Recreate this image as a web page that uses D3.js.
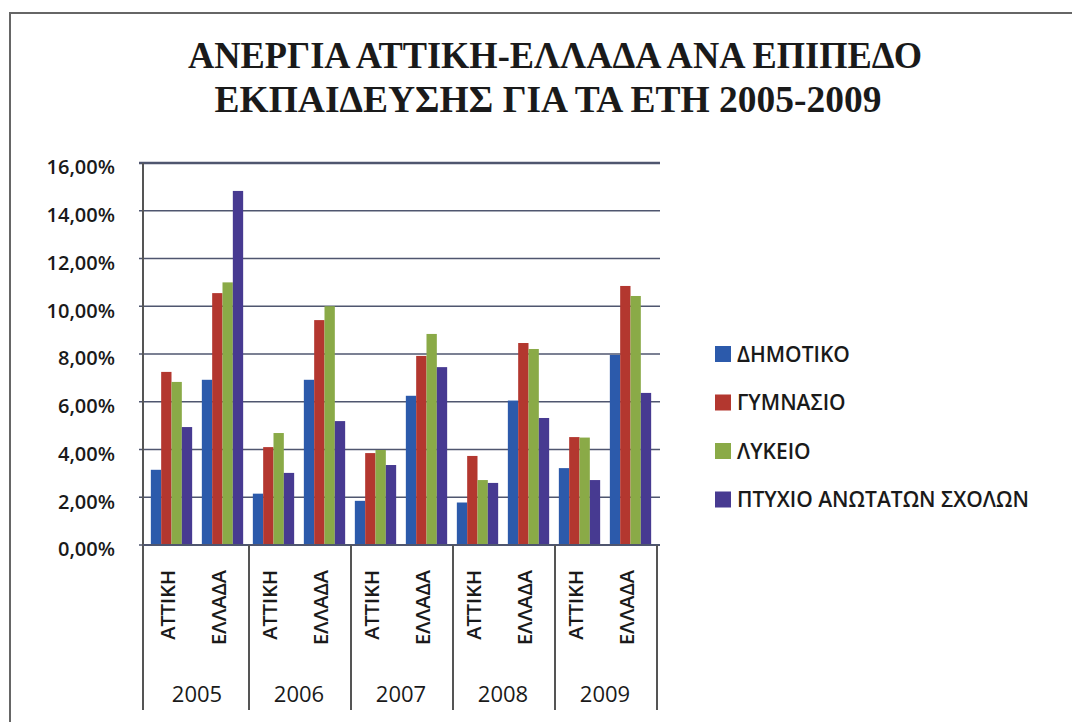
<!DOCTYPE html>
<html>
<head>
<meta charset="utf-8">
<script src="https://cdn.jsdelivr.net/npm/d3@7"></script>
<style>
  body { margin: 0; background: #fff; }
  svg text { font-family: "Open Sans", sans-serif; fill: #1a1a1a; }
</style>
</head>
<body>
<svg width="1072" height="722"></svg>
<script>
const years = ["2005", "2006", "2007", "2008", "2009"]
const regions = ["ΑΤΤΙΚΗ", "ΕΛΛΑΔΑ"]
const seriesNames = ["ΔΗΜΟΤΙΚΟ", "ΓΥΜΝΑΣΙΟ", "ΛΥΚΕΙΟ", "ΠΤΥΧΙΟ ΑΝΩΤΑΤΩΝ ΣΧΟΛΩΝ"]
const colors = ["#2c5aab", "#b3372f", "#8aaa47", "#473a91"]

// one value per (year, region), in order 2005 ΑΤΤΙΚΗ, 2005 ΕΛΛΑΔΑ, 2006 ΑΤΤΙΚΗ ...
const dimotiko  = [3.15, 6.92, 2.15, 6.92, 1.85, 6.25, 1.78, 6.05, 3.22, 7.96]
const gymnasio  = [7.25, 10.55, 4.10, 9.42, 3.85, 7.92, 3.73, 8.46, 4.52, 10.85]
const lykeio    = [6.83, 11.00, 4.69, 10.00, 3.98, 8.84, 2.72, 8.21, 4.50, 10.43]
const ptyxio    = [4.94, 14.83, 3.02, 5.19, 3.35, 7.45, 2.60, 5.32, 2.72, 6.37]
const seriesValues = [dimotiko, gymnasio, lykeio, ptyxio]

const yTicks = [0, 2, 4, 6, 8, 10, 12, 14, 16]

const svg = d3.select("svg")

// chart frame
svg.append("path")
    .attr("d", "M10,730 L10,13 L1072,13")
    .attr("fill", "none")
    .attr("stroke", "#666")
    .attr("stroke-width", 2)

// title
const title = svg.append("g")
    .style("font-family", "'Liberation Serif', 'Times New Roman', serif")
    .style("font-weight", "bold")
title.append("text")
    .attr("x", 555).attr("y", 68)
    .attr("text-anchor", "middle")
    .attr("font-size", 38)
    .attr("textLength", 734)
    .attr("lengthAdjust", "spacingAndGlyphs")
    .style("font-family", "inherit")
    .text("ΑΝΕΡΓΙΑ ΑΤΤΙΚΗ-ΕΛΛΑΔΑ ΑΝΑ ΕΠΙΠΕΔΟ")
title.append("text")
    .attr("x", 548).attr("y", 112)
    .attr("text-anchor", "middle")
    .attr("font-size", 38)
    .attr("textLength", 667)
    .attr("lengthAdjust", "spacingAndGlyphs")
    .style("font-family", "inherit")
    .text("ΕΚΠΑΙΔΕΥΣΗΣ ΓΙΑ ΤΑ ΕΤΗ 2005-2009")

const cats = []
years.forEach(yr => regions.forEach(r => cats.push(yr + "|" + r)))

const x0 = d3.scaleBand()
    .domain(cats)
    .range([146, 656])
    .paddingInner(0.19)
    .paddingOuter(0.095)

const x1 = d3.scaleBand()
    .domain(d3.range(seriesNames.length))
    .range([0, x0.bandwidth()])

const y = d3.scaleLinear()
    .domain([0, 16])
    .range([545, 163])

// gridlines
svg.append("g")
    .selectAll("line")
    .data(yTicks)
    .join("line")
    .attr("x1", 139).attr("x2", 660)
    .attr("y1", d => y(d)).attr("y2", d => y(d))
    .attr("stroke", "#4f566f")
    .attr("stroke-width", d => d === 16 ? 2.5 : 1.5)

// y labels
svg.append("g")
    .selectAll("text")
    .data(yTicks)
    .join("text")
    .attr("x", 115)
    .attr("y", d => y(d) + 5)
    .attr("dy", "0.32em")
    .attr("text-anchor", "end")
    .attr("font-size", 20)
    .attr("font-weight", 600)
    .text(d => d.toFixed(2).replace(".", ",") + "%")

// bars
const groups = svg.append("g")
    .selectAll("g")
    .data(cats)
    .join("g")
    .attr("transform", d => `translate(${x0(d)},0)`)

groups.selectAll("rect")
    .data((d, i) => seriesValues.map((s, k) => ({ k: k, v: s[i] })))
    .join("rect")
    .attr("x", d => x1(d.k))
    .attr("width", x1.bandwidth())
    .attr("y", d => y(d.v))
    .attr("height", d => y(0) - y(d.v))
    .attr("fill", d => colors[d.k])

// axes lines
svg.append("line")
    .attr("x1", 143).attr("x2", 143)
    .attr("y1", 163).attr("y2", 710)
    .attr("stroke", "#555").attr("stroke-width", 2)
svg.append("line")
    .attr("x1", 143).attr("x2", 660)
    .attr("y1", 545).attr("y2", 545)
    .attr("stroke", "#4f566f").attr("stroke-width", 2)

// year dividers
const step = x0.step()
svg.append("g")
    .selectAll("line")
    .data(years)
    .join("line")
    .attr("x1", d => x0(d + "|" + regions[1]) + x0.bandwidth() + step * 0.095 + 1)
    .attr("x2", d => x0(d + "|" + regions[1]) + x0.bandwidth() + step * 0.095 + 1)
    .attr("y1", 545).attr("y2", 710)
    .attr("stroke", "#555").attr("stroke-width", 2)

// region labels (rotated)
svg.append("g")
    .selectAll("text")
    .data(cats)
    .join("text")
    .attr("transform", d => `translate(${x0(d) + x0.bandwidth() / 2 + 3},570) rotate(-90)`)
    .attr("text-anchor", "end")
    .attr("font-size", 20)
    .attr("font-weight", 600)
    .text(d => d.split("|")[1])

// year labels
svg.append("g")
    .selectAll("text")
    .data(years)
    .join("text")
    .attr("x", d => (x0(d + "|" + regions[0]) + x0(d + "|" + regions[1]) + x0.bandwidth()) / 2)
    .attr("y", 702)
    .attr("text-anchor", "middle")
    .attr("font-size", 22)
    .text(d => d)

// legend
const legend = svg.append("g")
    .selectAll("g")
    .data(seriesNames)
    .join("g")
    .attr("transform", (d, i) => `translate(715,${354 + i * 48.5})`)
legend.append("rect")
    .attr("x", 0).attr("y", -8)
    .attr("width", 16).attr("height", 16)
    .attr("fill", (d, i) => colors[i])
legend.append("text")
    .attr("x", 22)
    .attr("dy", "0.36em")
    .attr("font-size", 21)
    .attr("font-weight", 600)
    .text(d => d)
</script>
</body>
</html>
